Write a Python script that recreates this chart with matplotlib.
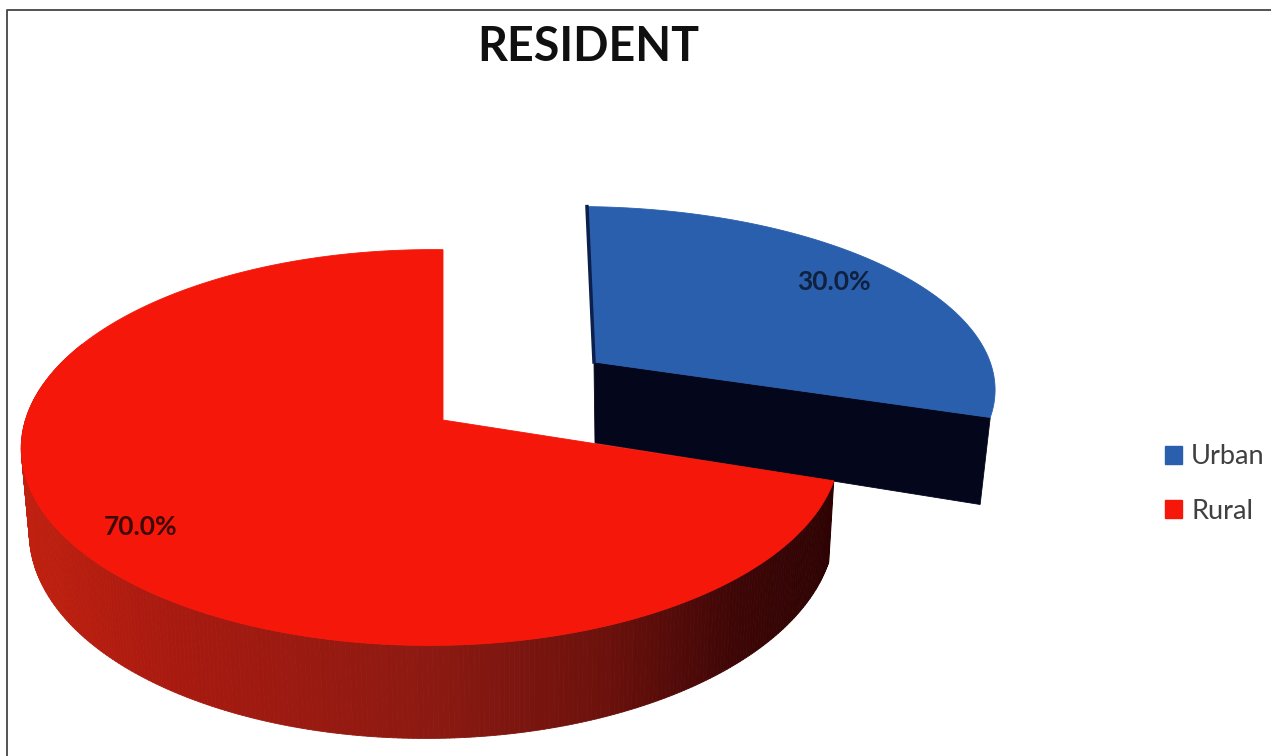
import numpy as np
import matplotlib
matplotlib.use("Agg")
import matplotlib.pyplot as plt
from matplotlib.collections import PolyCollection
from matplotlib.colors import LinearSegmentedColormap
from matplotlib.patches import Patch, Polygon

plt.rcParams["font.family"] = ["Lato", "DejaVu Sans"]

title = "RESIDENT"
categories = ["Urban", "Rural"]
shares = [30.0, 70.0]
colors = ["#2a5fae", "#f5170a"]
label_color = ["#10203f", "#3d0a08"]

W, H = 1271, 756

# pixel layout of each exploded slice: apex, radii, perspective, extrusion
layout = {
    "Urban": dict(cx=594, cy=362, rx=408, ry=177, shear=8, depth=81, depth_end=87,
                  t=0.028, vx=630, lab_r=0.80, lab_dy=-3),
    "Rural": dict(cx=443, cy=420, rx=405, ry=194, shear=0, depth=80, depth_end=90,
                  t=0.016, vx=522, lab_r=0.84, lab_dy=2),
}
K, M = 0.139, -0.03


# Disc coordinates to pixels, with a simple perspective divide
def project(p, u, v):
    w = 1 - K * v - M * u
    x = p["cx"] + (p["rx"] * u + p["shear"] * v) / w
    y = p["cy"] + p["ry"] * v / w
    return x, y


def extrude(p, x, y, u, v):
    w = 1 - K * v - M * u
    return x + (p["vx"] - x) * p["t"], y + p["depth"] / w


def draw_slice(ax, p, start, end, color):
    th = np.radians(np.linspace(start, end, 400))
    u, v = np.sin(th), -np.cos(th)
    x, y = project(p, u, v)
    x0, y0 = project(p, 0.0, 0.0)
    xb, yb = extrude(p, x, y, u, v)
    x0b, y0b = extrude(p, x0, y0, 0.0, 0.0)

    if p is layout["Rural"]:
        # rim, darker towards the right
        quads = [[(x[i], y[i]), (x[i + 1], y[i + 1]), (xb[i + 1], yb[i + 1]), (xb[i], yb[i])]
                 for i in range(len(x) - 1)]
        keep = [i for i in range(len(quads)) if v[i] > -0.4]
        shade = rim_cmap(((x[:-1] + x[1:]) / 2 - 22) / (835 - 22))
        rim = PolyCollection([quads[i] for i in keep], facecolors=shade[keep],
                             edgecolors=shade[keep], linewidths=0.6, zorder=2)
        ax.add_collection(rim)
    else:
        # the cut face is what shows on the outer slice
        ax.add_patch(Polygon([(x0, y0), (x[-1], y[-1]), (xb[-1], y[-1] + p["depth_end"]), (x0b, y0b)],
                             closed=True, fc="#04061c", ec="#04061c", lw=0.6, zorder=1))

    top = np.column_stack([np.r_[x0, x], np.r_[y0, y]])
    ax.add_patch(Polygon(top, closed=True, fc=color, ec=color, lw=0.6, zorder=3))
    return x, y


rim_cmap = LinearSegmentedColormap.from_list(
    "rim", [(0.0, "#c0200f"), (0.18, "#a81a10"), (0.5, "#8c1a12"),
            (0.72, "#6c110c"), (0.88, "#3e0606"), (1.0, "#2e0303")])

fig = plt.figure(figsize=(W / 100, H / 100), dpi=100)
ax = fig.add_axes([0, 0, 1, 1])
ax.set_xlim(0, W)
ax.set_ylim(H, 0)
ax.axis("off")

# frame of the pasted picture
ax.plot([7, 7, W], [H, 10, 10], color="#444444", lw=1.3, zorder=5)

fractions = np.array(shares) / sum(shares)
edges = np.r_[0, np.cumsum(fractions)] * 360

for i, name in enumerate(categories):
    p = layout[name]
    x, y = draw_slice(ax, p, edges[i], edges[i + 1], colors[i])
    if name == "Urban":
        x0, y0 = project(p, 0.0, 0.0)
        ax.plot([x[0], x0], [y[0], y0], color="#0c1f4d", lw=2.5, zorder=4)
    mid = np.radians((edges[i] + edges[i + 1]) / 2)
    lx, ly = project(p, p["lab_r"] * np.sin(mid), -p["lab_r"] * np.cos(mid))
    ax.text(lx, ly + p["lab_dy"], f"{shares[i]:.1f}%", ha="center", va="center", fontsize=19,
            fontweight="bold", color=label_color[i], zorder=6)

ax.text(588, 47, title, ha="center", va="center", fontsize=33.5, fontweight="bold",
        color="#101010", zorder=6)

handles = [Patch(fc=c, ec=c) for c in colors]
ax.legend(handles, categories, loc="center left", bbox_to_anchor=(1165, 484),
          bbox_transform=ax.transData, frameon=False, fontsize=19.5, labelcolor="#404040",
          handlelength=0.63, handleheight=0.63, handletextpad=0.33, labelspacing=1.08,
          borderpad=0, borderaxespad=0)

fig.savefig("out.png", dpi=100)
